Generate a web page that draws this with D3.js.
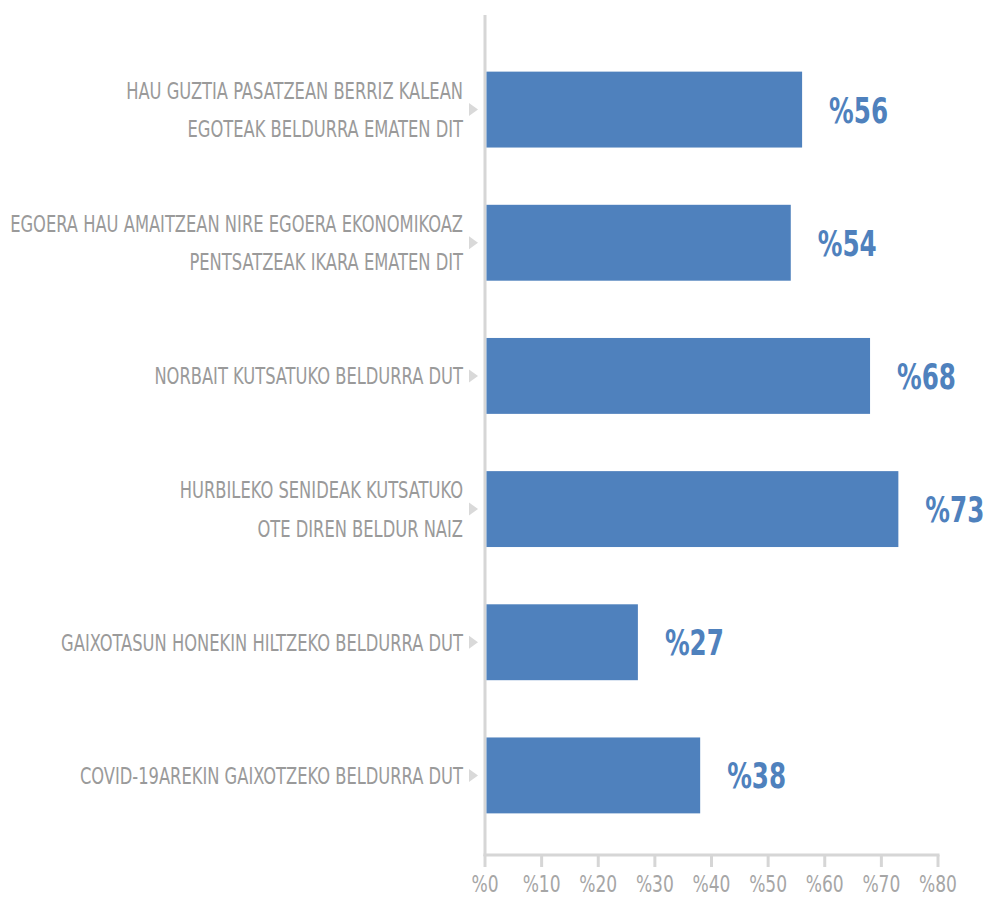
<!DOCTYPE html>
<html><head><meta charset="utf-8">
<script src="https://cdn.jsdelivr.net/npm/d3@7"></script>
<style>html,body{margin:0;padding:0;background:#fff;}svg{display:block;}</style>
</head><body>
<svg id="c" width="989" height="898"></svg>
<script>
const categories = [
  ["HAU GUZTIA PASATZEAN BERRIZ KALEAN", "EGOTEAK BELDURRA EMATEN DIT"],
  ["EGOERA HAU AMAITZEAN NIRE EGOERA EKONOMIKOAZ", "PENTSATZEAK IKARA EMATEN DIT"],
  ["NORBAIT KUTSATUKO BELDURRA DUT"],
  ["HURBILEKO SENIDEAK KUTSATUKO", "OTE DIREN BELDUR NAIZ"],
  ["GAIXOTASUN HONEKIN HILTZEKO BELDURRA DUT"],
  ["COVID-19AREKIN GAIXOTZEKO BELDURRA DUT"]
];
const values = [56, 54, 68, 73, 27, 38];
const tickValues = [0, 10, 20, 30, 40, 50, 60, 70, 80];
const tickLabels = ["%0", "%10", "%20", "%30", "%40", "%50", "%60", "%70", "%80"];
const valueLabels = ["%56", "%54", "%68", "%73", "%27", "%38"];

const FONT = "'Liberation Sans Narrow','DejaVu Sans Condensed','Roboto','Liberation Sans',sans-serif";
const BLUE = "#4f81bd";
const AXIS = "#d6d6d6";

const svg = d3.select("#c");
const keys = categories.map((c, i) => "c" + i);

const x = d3.scaleLinear().domain([0, 80]).range([485, 938]);
const y = d3.scaleBand().domain(keys).range([43, 842]).paddingInner(0.43).paddingOuter(0.215);

function measure(str, size, weight) {
  const t = svg.append("text").attr("font-family", FONT).attr("font-size", size)
    .attr("font-weight", weight).text(str);
  const w = t.node().getComputedTextLength();
  t.remove();
  return w;
}
const sxCat = 453 / measure(categories[1][0], 23, "normal");
const sxVal = 59 / measure("%56", 35, "bold");
const sxTick = 38 / measure("%80", 23, "normal");

// axes lines
svg.append("line").attr("x1", x(0)).attr("x2", x(0)).attr("y1", 15).attr("y2", 856)
  .attr("stroke", AXIS).attr("stroke-width", 3);
const xAxis = svg.append("g").attr("transform", "translate(0,855)");
xAxis.append("line").attr("x1", x(0) - 1.5).attr("x2", x(80) + 1.5).attr("y1", 0).attr("y2", 0)
  .attr("stroke", AXIS).attr("stroke-width", 3);
xAxis.selectAll(".tk").data(tickValues).join("line")
  .attr("x1", d => x(d)).attr("x2", d => x(d)).attr("y1", 0).attr("y2", 12)
  .attr("stroke", AXIS).attr("stroke-width", 3);
xAxis.selectAll(".tl").data(tickValues).join("g")
  .attr("transform", d => `translate(${x(d)},37) scale(${sxTick},1)`)
  .append("text").attr("text-anchor", "middle").attr("font-family", FONT)
  .attr("font-size", 23).attr("fill", "#a6a6a6").text((d, i) => tickLabels[i]);

// bars
svg.selectAll(".bar").data(values).join("rect")
  .attr("x", x(0) + 1.5)
  .attr("y", (d, i) => y(keys[i]))
  .attr("width", d => x(d) - x(0) - 1.5)
  .attr("height", y.bandwidth())
  .attr("fill", BLUE);

// value labels
svg.selectAll(".val").data(values).join("g")
  .attr("transform", (d, i) => `translate(${x(d) + 27},${y(keys[i]) + y.bandwidth() / 2 + 13}) scale(${sxVal},1)`)
  .append("text").attr("font-family", FONT).attr("font-size", 35).attr("font-weight", "bold")
  .attr("fill", BLUE).text((d, i) => valueLabels[i]);

// category labels
const cat = svg.selectAll(".cat").data(categories).join("g")
  .attr("transform", (d, i) => `translate(0,${y(keys[i]) + y.bandwidth() / 2})`);
cat.append("path").attr("d", "M469,-6.5 L478,0 L469,6.5 Z").attr("fill", "#d9d9d9");
cat.each(function (lines) {
  const g = d3.select(this);
  const n = lines.length;
  lines.forEach((ln, j) => {
    const base = 8.3 + (j - (n - 1) / 2) * 38.5;
    g.append("g").attr("transform", `translate(463,${base}) scale(${sxCat},1)`)
      .append("text").attr("text-anchor", "end").attr("font-family", FONT)
      .attr("font-size", 23).attr("fill", "#9a9a9a").text(ln);
  });
});
</script>
</body></html>
